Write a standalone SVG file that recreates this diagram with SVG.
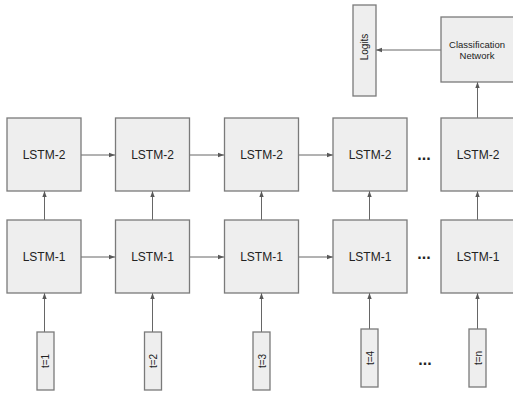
<svg xmlns="http://www.w3.org/2000/svg" width="513" height="394" viewBox="0 0 513 394">
<defs>
<marker id="ah" viewBox="0 0 6 6" refX="6" refY="3" markerWidth="6" markerHeight="6" markerUnits="userSpaceOnUse" orient="auto">
<path d="M0,0.8 L6,3 L0,5.2 Z" fill="#595959"/>
</marker>
<style>
.box{fill:#eeeeee;stroke:#7a7a7a;stroke-width:1.3}
.lbl{font-family:"Liberation Sans",Arial,sans-serif;font-size:12px;fill:#222;text-anchor:middle}
.sm{font-family:"Liberation Sans",Arial,sans-serif;font-size:9.5px;fill:#222;text-anchor:middle}
.rt{font-family:"Liberation Sans",Arial,sans-serif;font-size:10px;fill:#222;text-anchor:middle}
.dots{font-family:"Liberation Sans",Arial,sans-serif;font-size:16px;font-weight:bold;fill:#222;text-anchor:middle}
.ln{stroke:#666;stroke-width:1;fill:none;marker-end:url(#ah)}
</style>
</defs>
<rect width="513" height="394" fill="#ffffff"/>
<g id="connectors">
<line class="ln" x1="81" y1="155" x2="115" y2="155"/>
<line class="ln" x1="190" y1="155" x2="224" y2="155"/>
<line class="ln" x1="298" y1="155" x2="333" y2="155"/>
<line class="ln" x1="81" y1="257" x2="115" y2="257"/>
<line class="ln" x1="190" y1="257" x2="224" y2="257"/>
<line class="ln" x1="298" y1="257" x2="333" y2="257"/>
<line class="ln" x1="44.5" y1="220" x2="44.5" y2="191"/>
<line class="ln" x1="152.5" y1="220" x2="152.5" y2="191"/>
<line class="ln" x1="261.5" y1="220" x2="261.5" y2="191"/>
<line class="ln" x1="369.5" y1="220" x2="369.5" y2="191"/>
<line class="ln" x1="477.5" y1="220" x2="477.5" y2="191"/>
<line class="ln" x1="44.5" y1="332" x2="44.5" y2="293"/>
<line class="ln" x1="152.5" y1="332" x2="152.5" y2="293"/>
<line class="ln" x1="261.5" y1="332" x2="261.5" y2="293"/>
<line class="ln" x1="369.5" y1="329" x2="369.5" y2="293"/>
<line class="ln" x1="477.5" y1="329" x2="477.5" y2="293"/>
<line class="ln" x1="477.5" y1="118" x2="477.5" y2="82"/>
<line class="ln" x1="441" y1="50" x2="376" y2="50"/>
</g>
<g id="lstm2-1"><rect class="box" x="7" y="118" width="74" height="73"/><text class="lbl" x="44" y="159">LSTM-2</text></g>
<g id="lstm2-2"><rect class="box" x="115.5" y="118" width="74" height="73"/><text class="lbl" x="152.5" y="159">LSTM-2</text></g>
<g id="lstm2-3"><rect class="box" x="224.5" y="118" width="74" height="73"/><text class="lbl" x="261.5" y="159">LSTM-2</text></g>
<g id="lstm2-4"><rect class="box" x="333" y="118" width="74" height="73"/><text class="lbl" x="370" y="159">LSTM-2</text></g>
<g id="lstm2-n"><rect class="box" x="441" y="118" width="74" height="73"/><text class="lbl" x="478" y="159">LSTM-2</text></g>
<g id="lstm1-1"><rect class="box" x="7" y="220" width="74" height="73"/><text class="lbl" x="44" y="261">LSTM-1</text></g>
<g id="lstm1-2"><rect class="box" x="115.5" y="220" width="74" height="73"/><text class="lbl" x="152.5" y="261">LSTM-1</text></g>
<g id="lstm1-3"><rect class="box" x="224.5" y="220" width="74" height="73"/><text class="lbl" x="261.5" y="261">LSTM-1</text></g>
<g id="lstm1-4"><rect class="box" x="333" y="220" width="74" height="73"/><text class="lbl" x="370" y="261">LSTM-1</text></g>
<g id="lstm1-n"><rect class="box" x="441" y="220" width="74" height="73"/><text class="lbl" x="478" y="261">LSTM-1</text></g>
<g id="classification"><rect class="box" x="441" y="17" width="74" height="65"/><text class="sm" x="477" y="48">Classification</text><text class="sm" x="477" y="59">Network</text></g>
<g id="logits"><rect class="box" x="353" y="5" width="23" height="91"/><text class="rt" transform="translate(368,47) rotate(-90)">Logits</text></g>
<g id="t1"><rect class="box" x="37" y="332" width="17" height="58"/><text class="rt" transform="translate(49,361) rotate(-90)">t=1</text></g>
<g id="t2"><rect class="box" x="144.5" y="332" width="17" height="58"/><text class="rt" transform="translate(157,361) rotate(-90)">t=2</text></g>
<g id="t3"><rect class="box" x="253" y="332" width="17" height="58"/><text class="rt" transform="translate(265.5,361) rotate(-90)">t=3</text></g>
<g id="t4"><rect class="box" x="361" y="329" width="17" height="58"/><text class="rt" transform="translate(373.5,358) rotate(-90)">t=4</text></g>
<g id="tn"><rect class="box" x="469" y="329" width="17" height="58"/><text class="rt" transform="translate(481.5,358) rotate(-90)">t=n</text></g>
<g id="ellipses">
<text class="dots" x="424" y="160">...</text>
<text class="dots" x="424" y="259">...</text>
<text class="dots" x="425" y="365">...</text>
</g>
</svg>
